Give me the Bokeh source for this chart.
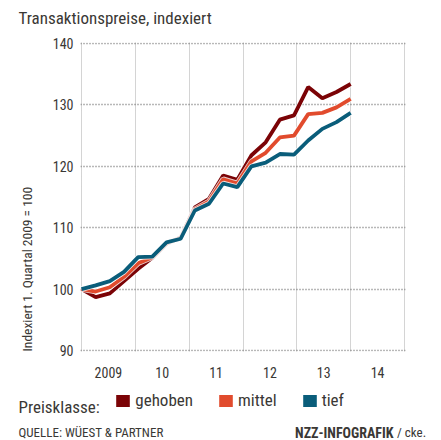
import numpy as np
from bokeh.plotting import figure
from bokeh.layouts import column
from bokeh.models import Range1d, FixedTicker, Legend, LegendItem, Title
from bokeh.core.properties import value
from bokeh.embed import file_html
from bokeh.resources import INLINE

# ---- data ----
quarters = [f"{y} Q{q}" for y in range(2009, 2014) for q in range(1, 5)]
gehoben = [100, 98.7, 99.3, 101.3, 103.3, 105.1, 107.4, 108.4, 113.3, 114.7,
           118.5, 117.8, 121.8, 123.9, 127.6, 128.3, 132.9, 131.1, 132.1, 133.4]
mittel = [100, 99.6, 100.3, 102.0, 104.2, 105.2, 107.5, 108.3, 113.0, 114.3,
          117.9, 117.2, 120.8, 122.2, 124.7, 125.0, 128.5, 128.7, 129.6, 131.0]
tief = [100, 100.6, 101.3, 102.8, 105.2, 105.3, 107.6, 108.2, 112.8, 113.9,
        117.2, 116.6, 120.0, 120.6, 122.0, 121.9, 124.2, 126.1, 127.2, 128.7]
series_names = ["gehoben", "mittel", "tief"]
years = [2009, 2010, 2011, 2012, 2013, 2014]
year_labels = ["2009", "10", "11", "12", "13", "14"]
y_ticks = [90, 100, 110, 120, 130, 140]

# ---- style ----
FONT = "Roboto Condensed, Liberation Sans Narrow, Roboto"
TXT = "#3a3835"
COLORS = ["#7b0306", "#e14b2d", "#0a5d7a"]
W = 440


def strip(height):
    f = figure(width=W, height=height, output_backend="svg", toolbar_location=None,
               x_range=Range1d(0, W), y_range=Range1d(height, 0),
               x_axis_type=None, y_axis_type=None, min_border=0)
    f.frame_align = False
    f.outline_line_color = None
    f.grid.visible = False
    f.background_fill_color = "white"
    f.border_fill_color = "white"
    return f


def txt(f, text, x, y, size, align="left", style="normal"):
    f.text(x=[x], y=[y], text=[text], text_font=value(FONT), text_font_size=size,
           text_color=TXT, text_align=align, text_baseline="alphabetic",
           text_font_style=style)


# ---- top strip: subtitle ----
top = strip(30)
txt(top, "Transaktionspreise, indexiert", 18, 17, "17px")

# ---- main chart ----
xs = np.linspace(years[0], years[-1], len(quarters))
xpad = 1.0 / 53.83   # one pixel of padding so edge grid lines show
ypad = 1.0 / 6.14

p = figure(width=W, height=356, output_backend="svg", toolbar_location=None,
           x_range=Range1d(years[0] - xpad, years[-1] + 1 + xpad),
           y_range=Range1d(y_ticks[0] - ypad, y_ticks[-1] + ypad),
           min_border_left=80, min_border_right=35, min_border_top=12, min_border_bottom=35)
p.frame_align = False
p.outline_line_color = None
p.background_fill_color = "white"
p.border_fill_color = "white"

# grids
p.xgrid.ticker = FixedTicker(ticks=list(range(years[0], years[-1] + 2)))
p.xgrid.grid_line_color = "#a8a8a8"
p.xgrid.grid_line_dash = "1 1"
p.xgrid.grid_line_width = 1
p.ygrid.ticker = FixedTicker(ticks=y_ticks)
p.ygrid.grid_line_color = "#707070"
p.ygrid.grid_line_dash = "1 2"
p.ygrid.grid_line_width = 1.3

# axes
p.xaxis.ticker = FixedTicker(ticks=[y + 0.5 for y in years])
p.xaxis.major_label_overrides = {y + 0.5: l for y, l in zip(years, year_labels)}
p.yaxis.ticker = FixedTicker(ticks=y_ticks)
for ax in (p.xaxis, p.yaxis):
    ax.axis_line_color = None
    ax.major_tick_line_color = None
    ax.minor_tick_line_color = None
    ax.major_tick_out = 0
    ax.major_tick_in = 0
    ax.major_label_text_font = FONT
    ax.major_label_text_font_size = "14px"
    ax.major_label_text_color = TXT
p.xaxis.major_label_standoff = 15
p.yaxis.major_label_standoff = 7

# y axis caption (placed low, as in the original)
p.add_layout(Title(text="Indexiert 1. Quartal 2009 = 100", align="left", offset=0,
                   standoff=30, text_font=FONT, text_font_size="13.5px",
                   text_font_style="normal", text_color=TXT), "left")

# lines
for vals, col in zip([gehoben, mittel, tief], COLORS):
    p.line(xs, vals, line_color="white", line_width=5.5, line_alpha=0.8)
    p.line(xs, vals, line_color=col, line_width=3.8)

# ---- bottom strip: legend + source ----
H2 = 53
bot = strip(H2)
nan = float("nan")
items = []
for name, col in zip(series_names, COLORS):
    r = bot.quad(left=[nan], right=[nan], top=[nan], bottom=[nan],
                 fill_color=col, line_color=None)
    items.append(LegendItem(label=name, renderers=[r]))
legend = Legend(items=items, location=(114.3, 29), orientation="horizontal",
                glyph_width=17, glyph_height=15, label_standoff=4, spacing=24,
                padding=0, margin=0, border_line_color=None, background_fill_alpha=0,
                label_text_font=FONT, label_text_font_size="17px",
                label_text_color=TXT, label_height=15)
bot.add_layout(legend)

txt(bot, "Preisklasse:", 18, 20, "17px")
txt(bot, "QUELLE: WÜEST & PARTNER", 18, 46, "13px")
txt(bot, "NZZ-INFOGRAFIK", 393, 46, "14px", align="right", style="bold")
txt(bot, "/ cke.", 396.5, 46, "13px")

layout = column(top, p, bot)
open("out.html", "w").write(file_html(layout, INLINE))
